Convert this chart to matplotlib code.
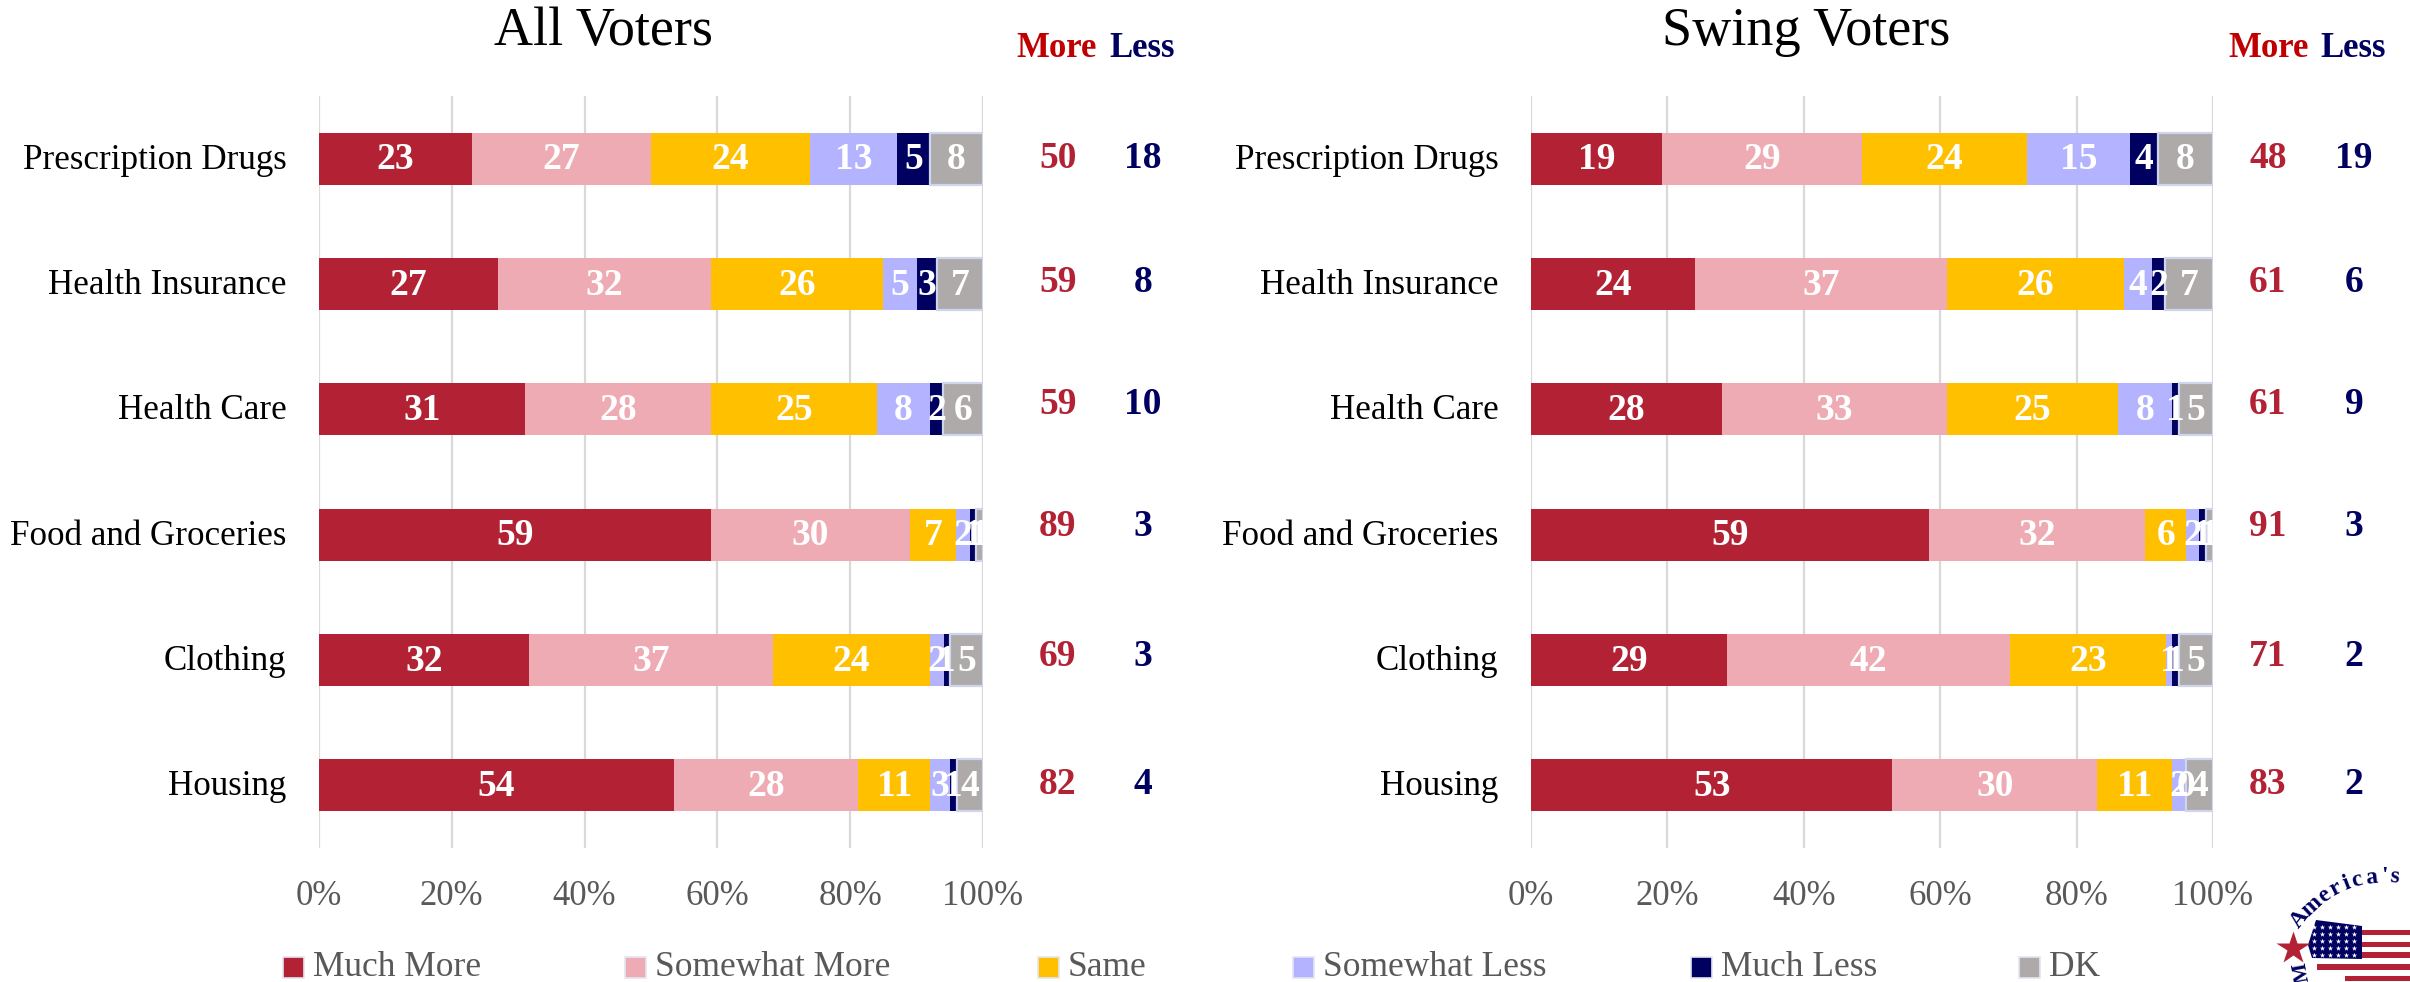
import numpy as np
import matplotlib
matplotlib.use("Agg")
import matplotlib.pyplot as plt
from matplotlib.patches import Rectangle, Polygon

W, H = 2410, 982
plt.rcParams['font.family'] = ['Liberation Serif', 'DejaVu Serif']

categories = ["Prescription Drugs", "Health Insurance", "Health Care",
              "Food and Groceries", "Clothing", "Housing"]
series = ["Much More", "Somewhat More", "Same", "Somewhat Less", "Much Less", "DK"]
colors = ["#B22234", "#EFABB3", "#FFC000", "#B3B3FF", "#000060", "#AEAAAA"]

all_much_more = [23, 27, 31, 59, 32, 54]
all_somewhat_more = [27, 32, 28, 30, 37, 28]
all_same = [24, 26, 25, 7, 24, 11]
all_somewhat_less = [13, 5, 8, 2, 2, 3]
all_much_less = [5, 3, 2, 1, 1, 1]
all_dk = [8, 7, 6, 1, 5, 4]
all_more = [50, 59, 59, 89, 69, 82]
all_less = [18, 8, 10, 3, 3, 4]

swing_much_more = [19, 24, 28, 59, 29, 53]
swing_somewhat_more = [29, 37, 33, 32, 42, 30]
swing_same = [24, 26, 25, 6, 23, 11]
swing_somewhat_less = [15, 4, 8, 2, 1, 2]
swing_much_less = [4, 2, 1, 1, 1, 0]
swing_dk = [8, 7, 5, 1, 5, 4]
swing_more = [48, 61, 61, 91, 71, 83]
swing_less = [19, 6, 9, 3, 2, 2]

all_table = [all_much_more, all_somewhat_more, all_same, all_somewhat_less, all_much_less, all_dk]
swing_table = [swing_much_more, swing_somewhat_more, swing_same, swing_somewhat_less, swing_much_less, swing_dk]
x_ticks = [0, 20, 40, 60, 80, 100]
x_tick_labels = ["0%", "20%", "40%", "60%", "80%", "100%"]

fig = plt.figure(figsize=(W / 100, H / 100), dpi=100, facecolor="white")
overlay = fig.add_axes([0, 0, 1, 1], zorder=5)
overlay.set_xlim(0, W); overlay.set_ylim(H, 0); overlay.axis("off")

row_text_y = [158, 283, 405, 526, 656, 785]


def panel(x0, x1, table, more, less, title, title_x, more_x, less_x, more_hx, less_hx):
    ax = fig.add_axes([x0 / W, 1 - 848 / H, (x1 - x0) / W, (848 - 96) / H])
    ypos = np.arange(len(categories))
    vals = np.array(table, dtype=float)
    shares = vals / vals.sum(axis=0) * 100
    left = np.zeros(len(categories))
    for i, name in enumerate(series):
        ec = "#CFD5EA" if name == "DK" else "none"
        ax.barh(ypos, shares[i], left=left, height=0.415, color=colors[i],
                edgecolor=ec, linewidth=1.6, zorder=3)
        for r in range(len(categories)):
            ax.text(left[r] + shares[i][r] / 2, r + 0.01, f"{int(vals[i][r])}", color="white",
                    ha="center", va="center", fontsize=27, fontweight="bold", zorder=4, clip_on=False)
        left += shares[i]
    ax.set_xlim(0, 100)
    ax.set_ylim(len(categories) - 0.5, -0.5)
    ax.set_xticks(x_ticks)
    ax.set_xticklabels(x_tick_labels, fontsize=25, color="#595959")
    ax.set_yticks(ypos)
    ax.set_yticklabels([])
    for r, cat in zip(ypos, categories):
        ax.annotate(cat, xy=(0, r), xycoords="data", xytext=(-23.5, -1.1), textcoords="offset points",
                    ha="right", va="center", fontsize=25.2, color="black", annotation_clip=False)
    ax.tick_params(axis="both", length=0)
    ax.tick_params(axis="x", pad=23)
    ax.grid(axis="x", color="#D9D9D9", linewidth=1.6, zorder=0)
    ax.set_axisbelow(True)
    for s in ax.spines.values():
        s.set_visible(False)
    ax.patch.set_alpha(0)
    overlay.text(title_x, 32, title, fontsize=39, ha="center", va="center", color="black")
    overlay.text(more_hx, 48, "More", fontsize=25, fontweight="bold", color="#C00000", ha="center", va="center")
    overlay.text(less_hx, 48, "Less", fontsize=25, fontweight="bold", color="#000060", ha="center", va="center")
    for y, m, l in zip(row_text_y, more, less):
        overlay.text(more_x, y, str(m), fontsize=27, fontweight="bold", color="#B22234", ha="center", va="center")
        overlay.text(less_x, y, str(l), fontsize=27, fontweight="bold", color="#000060", ha="center", va="center")


panel(319, 983, all_table, all_more, all_less, "All Voters", 604, 1058, 1143, 1057, 1142)
panel(1531, 2213, swing_table, swing_more, swing_less, "Swing Voters", 1806, 2268, 2354, 2269, 2353)

legend_x = [283, 625, 1038, 1293, 1691, 2019]
for lx, name, c in zip(legend_x, series, colors):
    overlay.add_patch(Rectangle((lx, 957), 21, 21, facecolor=c, edgecolor="#E3E6F0", linewidth=1.2))
    overlay.text(lx + 30, 968, name, fontsize=25.5, color="#595959", ha="left", va="center")

# logo: decorative stamp, cut off by the figure's right edge
for y0, y1, xs in [(930, 935, 2362), (942, 947, 2362), (952, 958, 2362), (964, 970, 2317), (976, 981, 2345)]:
    overlay.add_patch(Rectangle((xs, y0), W - xs, y1 - y0, facecolor="#B22234", edgecolor="none"))
overlay.add_patch(Polygon([(2316, 920), (2362, 926), (2362, 959), (2312, 958), (2308, 945)],
                          facecolor="#000060", edgecolor="none"))
sx, sy = np.meshgrid(np.arange(2314, 2362, 8), np.arange(927, 958, 7))
overlay.scatter(sx.ravel(), sy.ravel(), marker="*", s=16, color="white", linewidths=0, zorder=3)
overlay.plot([2293], [948], marker="*", ms=25, color="#B22234", mec="none")
arc_cx, arc_cy, arc_r = 2385, 985, 108
arc_chars = "America's"
arc_deg = [142, 133, 124, 117, 111, 105, 97, 90, 85]
for ch, ang in zip(arc_chars, arc_deg):
    a = np.deg2rad(ang)
    overlay.text(arc_cx + arc_r * np.cos(a), arc_cy - arc_r * np.sin(a), ch, fontsize=17, fontweight="bold",
                 color="#000060", rotation=ang - 90, ha="center", va="center", clip_on=True)
overlay.text(2302, 972, "M", fontsize=15, fontweight="bold", color="#000060", rotation=100,
             ha="center", va="center", clip_on=True)

fig.savefig("out.png", dpi=100)
